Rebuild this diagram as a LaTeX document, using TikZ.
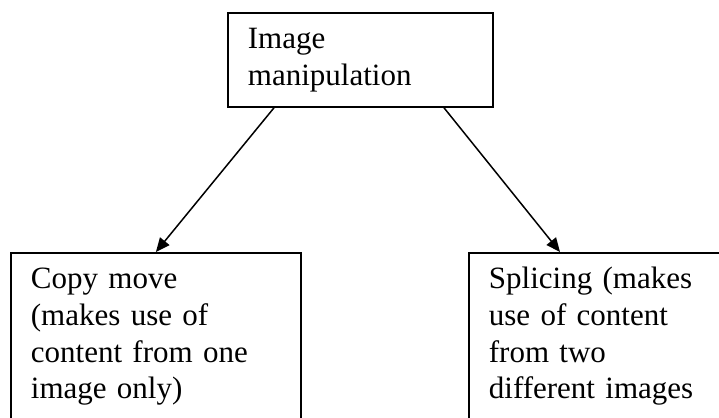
\documentclass[tikz,border=0pt]{standalone}
\usepackage{fontspec}
\setmainfont{Liberation Serif}
\usetikzlibrary{arrows.meta,calc}
\begin{document}
\begin{tikzpicture}[x=1pt,y=-1pt,
  boxnode/.style={draw=black, line width=1.8pt, rectangle, anchor=north west,
    align=left, inner xsep=20pt, inner ysep=10.3pt,
    font=\fontsize{31}{36.7}\selectfont},
  arr/.style={line width=1.5pt, -{Triangle[length=14pt,width=12pt]}}]
\fill[white] (0,0) rectangle (719,417);
\useasboundingbox (0,0) rectangle (719,417);
\clip (0,0) rectangle (719,417);
\node[boxnode, text width=225pt] (top) at (227,12) {\strut Image\\ manipulation\strut};
\node[boxnode, text width=250pt] (left) at (10,252) {\strut Copy move\\ (makes use of\\ content from one\\ image only)\strut};
\node[boxnode, text width=250pt] (right) at (468,252) {\strut Splicing (makes\\ use of content\\ from two\\ different images\strut};
\coordinate (s1) at ($(top.south west)+(47,0)$);
\coordinate (s2) at ($(top.south west)+(217,0)$);
\coordinate (t2) at ($(right.north west)+(92,0)$);
\draw[arr] (s1) -- (left.north);
\draw[arr] (s2) -- (t2);
\end{tikzpicture}
\end{document}
